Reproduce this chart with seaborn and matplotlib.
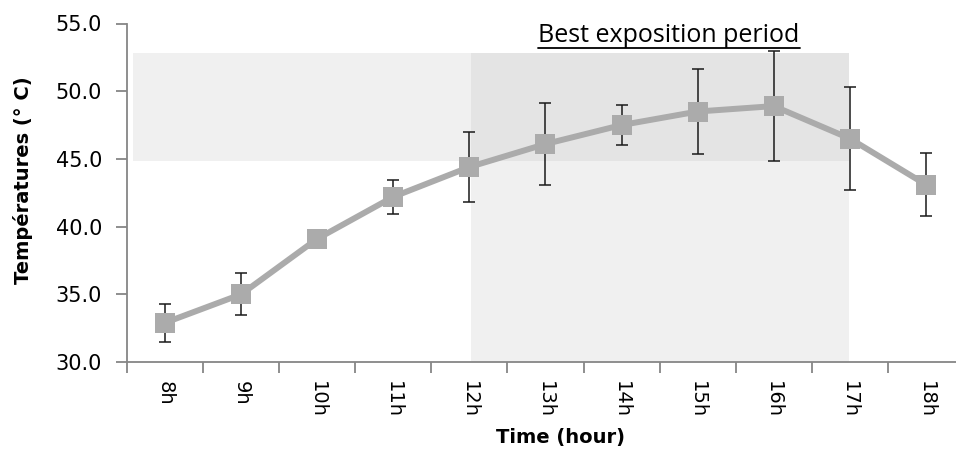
import numpy as np
import pandas as pd
import matplotlib
matplotlib.use("Agg")
import matplotlib.pyplot as plt
import seaborn as sns
from matplotlib.ticker import FormatStrFormatter, FixedLocator

hours = ["8h", "9h", "10h", "11h", "12h", "13h", "14h", "15h", "16h", "17h", "18h"]
temps = [32.9, 35.0, 39.1, 42.2, 44.4, 46.1, 47.5, 48.5, 48.9, 46.5, 43.1]
errs = [1.4, 1.55, 0.3, 1.25, 2.6, 3.05, 1.45, 3.15, 4.05, 3.8, 2.35]
yticks = [30.0, 35.0, 40.0, 45.0, 50.0, 55.0]
title_text = "Best exposition period"
ylabel_text = "Températures (° C)"
xlabel_text = "Time (hour)"

df = pd.DataFrame({"hour": hours, "temp": temps, "err": errs})

sns.set_theme(style="white")
plt.rcParams["font.family"] = ["DejaVu Sans"]
plt.rcParams["text.color"] = "black"
plt.rcParams["xtick.labelcolor"] = "black"
plt.rcParams["ytick.labelcolor"] = "black"

fig = plt.figure(figsize=(9.56, 4.54), dpi=100)
W, H = 956, 454
ax = fig.add_axes([127 / W, (H - 362) / H, 837 / W, (362 - 23.5) / H])

# shaded regions
light = "#F0F0F0"
dark = "#E4E4E4"
band_lo, band_hi = 44.85, 52.85
x_left, x_mid, x_right = -0.42, 4.02, 8.99

sns.lineplot(data=df, x="hour", y="temp", marker="s", markersize=14.5,
             markeredgewidth=0, color="#ABABAB", linewidth=4.3, ax=ax,
             zorder=3, sort=False, errorbar=None)
ax.errorbar(df["hour"], df["temp"], yerr=df["err"], fmt="none",
            ecolor="#1a1a1a", elinewidth=1.1, capsize=4, capthick=1.1, zorder=2)

ax.fill_between([x_left, x_mid], band_lo, band_hi, color=light, lw=0, zorder=0)
ax.fill_between([x_mid, x_right], 30, band_lo, color=light, lw=0, zorder=0)
ax.fill_between([x_mid, x_right], band_lo, band_hi, color=dark, lw=0, zorder=0)

ax.set_xlim(-0.5, len(hours) - 0.5)
ax.set_ylim(30, 55)
ax.set_yticks(yticks)
ax.yaxis.set_major_formatter(FormatStrFormatter("%.1f"))

ax.set_xticks(range(len(hours)))
ax.set_xticklabels(hours, rotation=-90, fontsize=14)
ax.xaxis.set_minor_locator(FixedLocator(np.arange(-0.5, len(hours), 1.0)))
ax.tick_params(axis="x", which="both", bottom=True)
ax.tick_params(axis="y", which="both", left=True)
ax.tick_params(axis="x", which="major", length=0, pad=14, labelcolor="black")
ax.tick_params(axis="x", which="minor", length=8, width=1.3, color="#868686", direction="out")
ax.tick_params(axis="y", which="major", length=8, width=1.3, color="#868686",
               direction="out", labelsize=15, pad=10, labelcolor="black")

for s in ["top", "right"]:
    ax.spines[s].set_visible(False)
for s in ["left", "bottom"]:
    ax.spines[s].set_color("#868686")
    ax.spines[s].set_linewidth(1.3)

ax.set_xlabel("")
ax.set_ylabel("")
fig.text(561 / W, 1 - 438 / H, xlabel_text, ha="center", va="center",
         fontsize=14, fontweight="bold", color="black")
fig.text(23 / W, 1 - 180 / H, ylabel_text, ha="center", va="center",
         rotation=90, fontsize=14, fontweight="bold", color="black")

t = fig.text(669 / W, 1 - 36 / H, title_text, ha="center", va="center",
             fontsize=18, family=["Open Sans", "DejaVu Sans"], color="black")
fig.canvas.draw()
bb = t.get_window_extent(fig.canvas.get_renderer())
fig.add_artist(plt.Line2D([bb.x0 / W, bb.x1 / W], [(bb.y0 + 1) / H, (bb.y0 + 1) / H],
                          color="black", lw=1.3, transform=fig.transFigure))

fig.savefig("out.png", dpi=100)
